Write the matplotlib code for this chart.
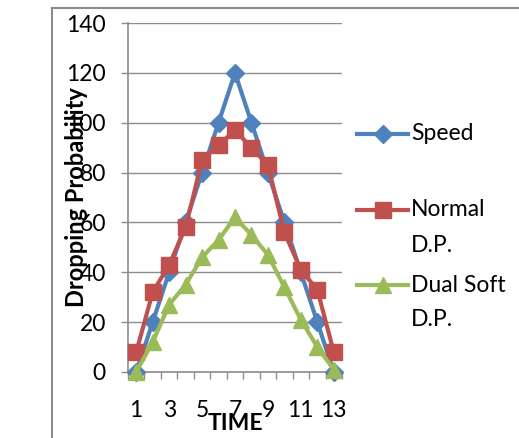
import matplotlib
matplotlib.use("Agg")
import matplotlib.pyplot as plt
from matplotlib.lines import Line2D

plt.rcParams['font.family'] = ['Lato', 'DejaVu Sans']

time = list(range(1, 14))
speed = [0, 20, 40, 60, 80, 100, 120, 100, 80, 60, 40, 20, 0]
normal_dp = [8, 32, 43, 58, 85, 91, 97, 90, 83, 56, 41, 33, 8]
dual_soft_dp = [0, 12, 27, 35, 46, 53, 62, 55, 47, 34, 21, 10, 1]
series_names = ["Speed", "Normal\nD.P.", "Dual Soft\nD.P."]
x_tick_labels = ["1", "3", "5", "7", "9", "11", "13"]

colors = ["#4F81BD", "#C0504D", "#9BBB59"]
markers = ["D", "s", "^"]
msizes = [9.5, 11, 11.5]
LW = 3.0
FS = 16.5

W, H = 519, 438
fig = plt.figure(figsize=(W / 100, H / 100), dpi=100)

def fx(px):
    return px / W

def fy(py):
    return 1 - py / H

ax = fig.add_axes([fx(128), fy(372), fx(342) - fx(128), fy(23) - fy(372)])

for vals, c, m, ms in zip([speed, normal_dp, dual_soft_dp], colors, markers, msizes):
    ax.plot(time, vals, color=c, lw=LW, marker=m, ms=ms, mec=c, mfc=c,
            clip_on=False, zorder=3)

ax.set_xlim(0.5, 13.5)
ax.set_ylim(0, 140)
ax.set_yticks(range(0, 141, 20))
ax.yaxis.grid(True, color="#8C8C8C", lw=1.0)
ax.set_axisbelow(True)

# x ticks: marks at category boundaries, labels at every other category
ax.set_xticks([i + 0.5 for i in range(0, 14)])
ax.set_xticklabels([])
ax.set_xticks(list(range(1, 14, 2)), minor=True)
ax.set_xticklabels(x_tick_labels, minor=True)
ax.tick_params(axis="x", which="major", direction="out", length=5, width=1, color="#8C8C8C")
ax.tick_params(axis="x", which="minor", length=0, pad=20, labelsize=FS)
ax.tick_params(axis="y", direction="out", length=5, width=1, color="#8C8C8C", pad=11, labelsize=FS)

for s in ["top", "right"]:
    ax.spines[s].set_visible(False)
for s in ["left", "bottom"]:
    ax.spines[s].set_color("#8C8C8C")
    ax.spines[s].set_linewidth(1.2)

fig.text(fx(235), fy(423), "TIME", ha="center", va="center", fontsize=FS, fontweight="bold")
fig.text(fx(76), fy(197), "Dropping Probability", ha="center", va="center",
         rotation=90, fontsize=17, fontweight="bold")

# legend
leg_y = [134, 210, 285]
for name, c, m, ms, y in zip(series_names, colors, markers, msizes, leg_y):
    fig.add_artist(Line2D([fx(357), fx(408)], [fy(y), fy(y)], color=c, lw=LW,
                          transform=fig.transFigure))
    fig.add_artist(Line2D([fx(382.5)], [fy(y)], color=c, marker=m, ms=ms, mec=c, mfc=c,
                          transform=fig.transFigure))
    for k, ln in enumerate(name.split("\n")):
        fig.text(fx(411), fy(y + k * 35), ln, ha="left", va="center", fontsize=FS)

# chart border
fig.add_artist(Line2D([fx(52), fx(52)], [fy(438), fy(8)], color="#8C8C8C", lw=1.5,
                      transform=fig.transFigure))
fig.add_artist(Line2D([fx(52), fx(519)], [fy(8), fy(8)], color="#8C8C8C", lw=1.5,
                      transform=fig.transFigure))

fig.savefig("out.png", dpi=100)
